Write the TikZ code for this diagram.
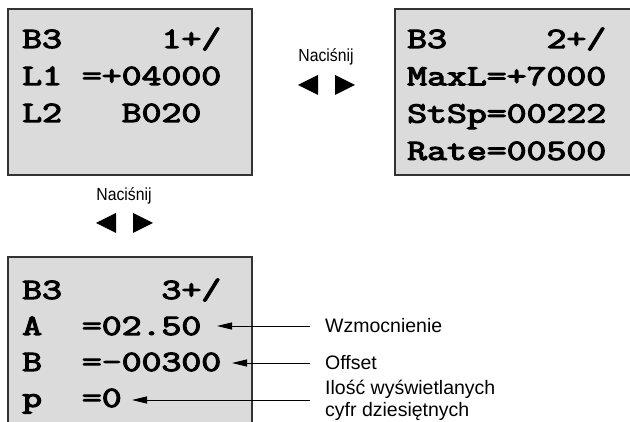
\documentclass[tikz,border=0pt]{standalone}
\usepackage{fontspec}
\usepackage{graphicx}
\setmainfont{Liberation Sans}
\newfontfamily\lcdfont{Latin Modern Mono}[FakeBold=3.5]
\usetikzlibrary{arrows.meta, positioning}

\newcommand\lcdtext[1]{\scalebox{1.31}[1]{#1}}
\newcommand\presstext[1]{\scalebox{0.9}[1]{#1}}

\tikzset{
  screen/.style={draw=black!80, line width=1.4pt, fill=black!14},
  lcd/.style={anchor=base west, inner sep=0pt, font=\lcdfont\fontsize{29.5}{29.5}\selectfont},
  press/.style={inner sep=0pt, font=\fontsize{17.5}{17.5}\selectfont},
  lbl/.style={anchor=west, inner xsep=15pt, inner ysep=0pt, align=left, font=\fontsize{19.5}{22}\selectfont},
  pointer/.style={-{Triangle[length=15pt,width=7pt]}, line width=0.9pt},
}

\begin{document}
\begin{tikzpicture}[x=1pt,y=-1pt]
\useasboundingbox (0,0) rectangle (630,422);
\clip (0,0) rectangle (630,422);

% Display screens
\draw[screen] (8,9) rectangle (252,175);
\draw[screen] (395,9) rectangle (640,175);
\draw[screen] (8,257) rectangle (252,440);

% Screen 1
\foreach \txt [count=\i] in {B3~~~~~1+/, L1~=+04000, L2~~~B020}
  \node[lcd] (sa-\i) at (22,{48+37*(\i-1)}) {\lcdtext{\txt}};

% Screen 2
\foreach \txt [count=\i] in {B3~~~~~2+/, MaxL=+7000, StSp=00222, Rate=00500}
  \node[lcd] (sb-\i) at (407,{48+37.3*(\i-1)}) {\lcdtext{\txt}};

% Screen 3
\foreach \txt [count=\i] in {B3~~~~~3+/, A~~=02.50, B~~=-00300, p~~=0}
  \node[lcd] (sc-\i) at (22,{299+36*(\i-1)}) {\lcdtext{\txt}};

% Key hints
\node[press] (press1) at (326,57) {\presstext{Naciśnij}};
\fill (298,85) -- (318,75) -- (318,95) -- cycle;
\fill (335,75) -- (335,95) -- (355,85) -- cycle;

\node[press] (press2) at (124,196) {\presstext{Naciśnij}};
\fill (96,223) -- (116,213) -- (116,233) -- cycle;
\fill (133,213) -- (133,233) -- (153,223) -- cycle;

% Parameter labels
\coordinate (tipA) at (217,326);
\coordinate (tipB) at (232,363);
\coordinate (tipP) at (132,400);

\node[lbl] (lblA) at (310,326) {Wzmocnienie};
\node[lbl] (lblB) at (310,363) {Offset};
\node[lbl] (lblP) at (310,400) {Ilość wyświetlanych\\cyfr dziesiętnych};

\draw[pointer] (lblA.west) -- (tipA);
\draw[pointer] (lblB.west) -- (tipB);
\draw[pointer] (lblP.west) -- (tipP);
\end{tikzpicture}
\end{document}
